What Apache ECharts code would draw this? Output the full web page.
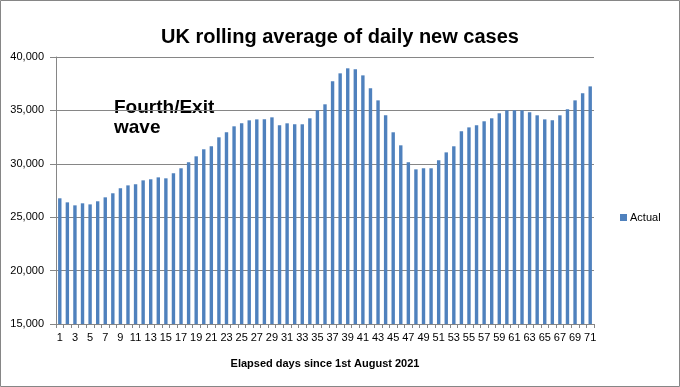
<!DOCTYPE html>
<html>
<head>
<meta charset="utf-8">
<script src="https://cdn.jsdelivr.net/npm/echarts@6/dist/echarts.min.js"></script>
<style>
html,body{margin:0;padding:0;background:#fff;}
#chart{width:680px;height:387px;}
</style>
</head>
<body>
<div id="chart"></div>
<script>
const days = [];
for (let i = 1; i <= 71; i++) days.push(String(i));

const actual = [
  26770, 26390, 26110, 26300, 26200, 26490, 26860, 27240, 27700, 27980,
  28080, 28450, 28550, 28730, 28640, 29110, 29580, 30140, 30700, 31360,
  31640, 32480, 32950, 33510, 33790, 34070, 34160, 34160, 34350, 33600,
  33790, 33700, 33700, 34260, 35010, 35570, 37720, 38470, 38940, 38850,
  38280, 37070, 35940, 34540, 32950, 31730, 30140, 29480, 29580, 29580,
  30330, 31070, 31640, 33040, 33410, 33600, 33980, 34260, 34730, 35010,
  35010, 35010, 34820, 34540, 34160, 34070, 34540, 35100, 35940, 36600,
  37250
];

const yTicks = { min: 15000, max: 40000, interval: 5000 };
const titleText = 'UK rolling average of daily new cases';
const xAxisName = 'Elapsed days since 1st August 2021';
const seriesName = 'Actual';
const annotation = ['Fourth/Exit', 'wave'];

const chart = echarts.init(document.getElementById('chart'), null, { renderer: 'canvas' });
const font = 'Liberation Sans, Arial, sans-serif';

chart.setOption({
  animation: false,
  backgroundColor: '#ffffff',
  title: {
    text: titleText,
    left: 'center',
    top: 22,
    textStyle: { fontFamily: font, fontSize: 20, fontWeight: 'bold', color: '#000' }
  },
  legend: {
    data: [seriesName],
    left: 615,
    top: 207,
    icon: 'rect',
    itemWidth: 7,
    itemHeight: 7,
    itemGap: 4,
    textStyle: { fontFamily: font, fontSize: 11, color: '#000', padding: [0,0,0,-2] }
  },
  grid: { left: 56, right: 86, top: 57, bottom: 63, containLabel: false },
  xAxis: {
    type: 'category',
    data: days,
    name: xAxisName,
    nameLocation: 'middle',
    nameGap: 34,
    nameTextStyle: { fontFamily: font, fontSize: 11, fontWeight: 'bold', color: '#000' },
    axisLine: { lineStyle: { color: '#868686', width: 1 } },
    axisTick: { show: true, interval: 0, length: 4, lineStyle: { color: '#868686' } },
    axisLabel: { interval: 1, margin: 8, fontFamily: font, fontSize: 11, color: '#000' },
    splitLine: { show: false }
  },
  yAxis: {
    type: 'value',
    min: yTicks.min,
    max: yTicks.max,
    interval: yTicks.interval,
    axisLine: { show: true, lineStyle: { color: '#868686', width: 1 } },
    axisTick: { show: true, length: 6, lineStyle: { color: '#868686' } },
    axisLabel: {
      margin: 12, fontFamily: font, fontSize: 11, color: '#000',
      formatter: v => v.toLocaleString('en-US')
    },
    splitLine: { show: true, lineStyle: { color: '#868686', width: 1 } }
  },
  series: [{
    name: seriesName,
    type: 'bar',
    data: actual,
    barWidth: 3.4,
    itemStyle: { color: '#4F81BD' }
  }],
  graphic: [
    {
      type: 'rect',
      shape: { x: 0.5, y: 0.5, width: 679, height: 386 },
      style: { fill: 'none', stroke: '#868686', lineWidth: 1 },
      silent: true
    },
    {
      type: 'text',
      left: 114,
      top: 98,
      style: {
        text: annotation.join('\n'),
        font: 'bold 19px Liberation Sans, Arial, sans-serif',
        lineHeight: 20,
        fill: '#000'
      }
    }
  ]
});
</script>
</body>
</html>
